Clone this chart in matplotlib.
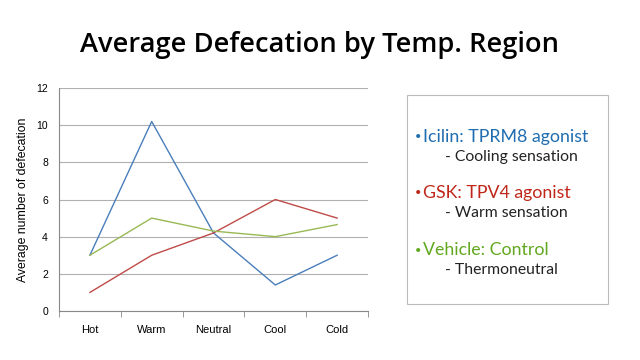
import matplotlib
matplotlib.use("Agg")
import matplotlib.pyplot as plt
from matplotlib.patches import Rectangle

categories = ["Hot", "Warm", "Neutral", "Cool", "Cold"]
icilin = [3, 10.2, 4.2, 1.4, 3]
gsk = [1, 3, 4.2, 6, 5]
vehicle = [3, 5, 4.3, 4, 4.65]
yticks = [0, 2, 4, 6, 8, 10, 12]

W, H = 640, 360
fig = plt.figure(figsize=(6.4, 3.6), dpi=100)
fig.patch.set_facecolor("white")

fig.text(320 / W, 1 - 45 / H, "Average Defecation by Temp. Region", ha="center", va="center",
         fontsize=19.6, fontweight="semibold", family="Open Sans", color="black")

ax = fig.add_axes([59 / W, 1 - 311 / H, (368 - 59) / W, (311 - 88) / H])
x = list(range(len(categories)))
ax.plot(x, icilin, color="#4A7EBB", lw=1.0)
ax.plot(x, gsk, color="#BE4B48", lw=1.0)
ax.plot(x, vehicle, color="#98B954", lw=1.0)
ax.set_xlim(-0.5, len(categories) - 0.5)
ax.set_ylim(0, 12)
ax.set_yticks(yticks)
ax.set_yticklabels([str(v) for v in yticks], fontsize=7.5, family="Liberation Sans")
ax.set_xticks(x)
ax.set_xticklabels(categories, fontsize=8, family="Liberation Sans")
ax.set_xticks([i - 0.5 for i in range(len(categories) + 1)], minor=True)
ax.tick_params(axis="x", which="major", length=0, pad=10)
ax.tick_params(axis="x", which="minor", length=4, color="#888888", direction="out")
ax.tick_params(axis="y", length=0, pad=8)
ax.grid(axis="y", color="#B0B0B0", lw=0.8)
ax.set_axisbelow(True)
for s in ["top", "right"]:
    ax.spines[s].set_visible(False)
ax.spines["left"].set_color("#888888")
ax.spines["bottom"].set_color("#888888")
ax.spines["left"].set_linewidth(0.8)
ax.spines["bottom"].set_linewidth(0.8)
ax.set_ylabel("Average number of defecation", fontsize=8.8, family="Liberation Sans", labelpad=5)

# legend-like text box
fig.add_artist(Rectangle((407 / W, 1 - 304 / H), (608 - 407) / W, (304 - 95) / H,
                         transform=fig.transFigure, facecolor="white", edgecolor="#BBBBBB", lw=0.8))
entries = [("Icilin: TPRM8 agonist", "#1F6DB0", "- Cooling sensation", 137),
           ("GSK: TPV4 agonist", "#C0271A", "- Warm sensation", 193),
           ("Vehicle: Control", "#62A81E", "- Thermoneutral", 250)]
for head, col, sub, yy in entries:
    fig.text(415 / W, 1 - yy / H, "•", color=col, fontsize=8, family="Lato", va="center", ha="left")
    fig.text(423 / W, 1 - yy / H, head, color=col, fontsize=12.8, family="Lato", va="center", ha="left")
    fig.text(445 / W, 1 - (yy + 20) / H, sub, color="#222222", fontsize=11.3, family="Lato", va="center", ha="left")

fig.savefig("out.png", dpi=100)
